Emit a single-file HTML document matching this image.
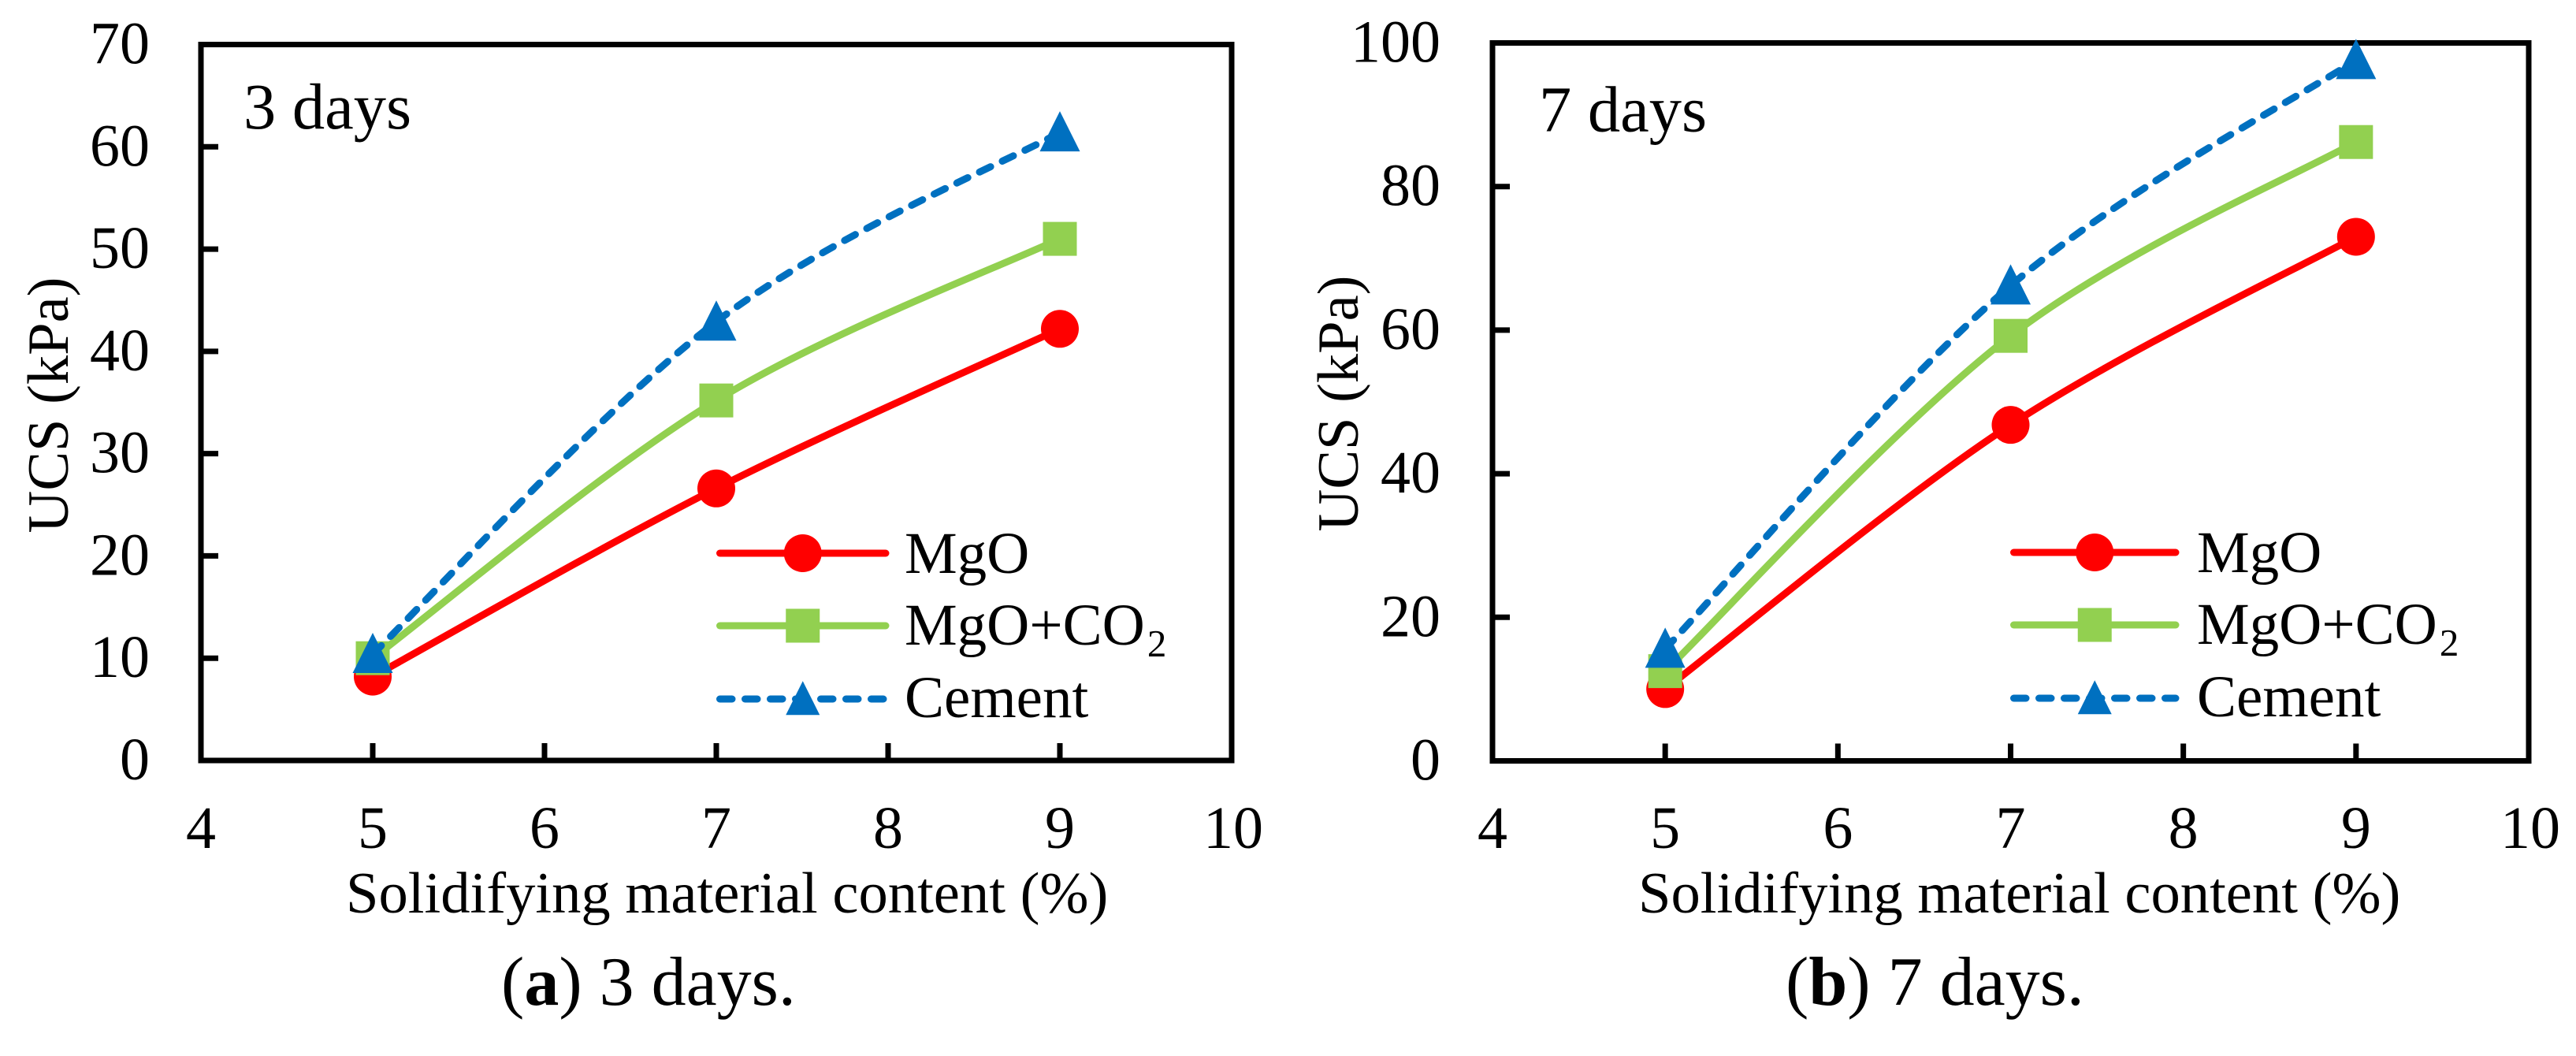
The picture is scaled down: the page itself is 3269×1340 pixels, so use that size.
<!DOCTYPE html>
<html lang="en">
<head>
<meta charset="utf-8">
<title>UCS vs solidifying material content</title>
<style>
html,body{margin:0;padding:0;background:#fff;}
svg{display:block;}
text{font-family:"Liberation Serif","Times New Roman",serif;fill:#000;}
</style>
</head>
<body>
<svg id="figure" xmlns="http://www.w3.org/2000/svg" width="3269" height="1340" viewBox="0 0 3269 1340"></svg>
<script>
const xCategories = [5, 7, 9];
const xTickLabels = [4, 5, 6, 7, 8, 9, 10];
const seriesNames = ['MgO', 'MgO+CO2', 'Cement'];

const yTicks3Days = [0, 10, 20, 30, 40, 50, 60, 70];
const mgo3Days = [8.2, 26.6, 42.2];
const mgoCo23Days = [10, 35.2, 51];
const cement3Days = [10.4, 42.9, 61.4];

const yTicks7Days = [0, 20, 40, 60, 80, 100];
const mgo7Days = [10, 46.8, 73];
const mgoCo27Days = [12.5, 59.2, 86.2];
const cement7Days = [15.6, 66.2, 97.6];

const NS = 'http://www.w3.org/2000/svg';
const svg = document.getElementById('figure');

function make(tag, attrs, parent, txt) {
  const el = document.createElementNS(NS, tag);
  for (const k in attrs) el.setAttribute(k, attrs[k]);
  if (txt !== undefined) el.textContent = txt;
  (parent || svg).appendChild(el);
  return el;
}

const styles = [
  {color: '#FF0000', dash: null},
  {color: '#92D050', dash: null},
  {color: '#0070C0', dash: '15.5 16.5'}
];

function smoothPath(pts) {
  let d = 'M' + pts[0][0] + ' ' + pts[0][1];
  for (let i = 0; i < pts.length - 1; i++) {
    const p0 = pts[Math.max(i - 1, 0)], p1 = pts[i], p2 = pts[i + 1], p3 = pts[Math.min(i + 2, pts.length - 1)];
    const c1x = p1[0] + (p2[0] - p0[0]) / 6, c1y = p1[1] + (p2[1] - p0[1]) / 6;
    const c2x = p2[0] - (p3[0] - p1[0]) / 6, c2y = p2[1] - (p3[1] - p1[1]) / 6;
    d += ' C' + c1x + ' ' + c1y + ' ' + c2x + ' ' + c2y + ' ' + p2[0] + ' ' + p2[1];
  }
  return d;
}

function drawMarker(kind, cx, cy, color, size, parent) {
  if (kind === 0) {
    const c = make('circle', {cx: cx, cy: cy, r: 24, fill: color}, parent);
    
    
  } else if (kind === 1) {
    const r = make('rect', {x: cx - 21.5, y: cy - 21.5, width: 43, height: 43, fill: color}, parent);
    
    
  } else {
    const h = size, w = size;
    const t = make('polygon', {points: (cx - w / 2) + ',' + (cy + h * 0.47) + ' ' + (cx + w / 2) + ',' + (cy + h * 0.47) + ' ' + cx + ',' + (cy - h * 0.53), fill: color}, parent);
    
    
  }
}

function drawChart(o) {
  const g = make('g', {});
  
  
  const xAxis = v => o.x0 + (v - 4) / 6 * (o.x1 - o.x0);
  const yMax = o.yTicks[o.yTicks.length - 1];
  const yAxis = v => o.y0 - v / yMax * (o.y0 - o.y1);

  // frame
  const frame = make('rect', {x: o.x0, y: o.y1, width: o.x1 - o.x0, height: o.y0 - o.y1, fill: 'none', stroke: '#000', 'stroke-width': 7}, g);
  
  

  // y ticks
  o.yTicks.forEach((t, i) => {
    const y = yAxis(t);
    if (i > 0 && i < o.yTicks.length - 1) {
      const tk = make('line', {x1: o.x0, x2: o.x0 + 22, y1: y, y2: y, stroke: '#000', 'stroke-width': 7}, g);
      
      
    }
    const lb = make('text', {x: o.yLabelX, y: y + 24, 'text-anchor': 'end', 'font-size': 76}, g, String(t));
    
    
  });

  // x ticks
  xTickLabels.forEach((t, i) => {
    const x = xAxis(t);
    if (i > 0 && i < xTickLabels.length - 1) {
      const tk = make('line', {x1: x, x2: x, y1: o.y0, y2: o.y0 - 22, stroke: '#000', 'stroke-width': 7}, g);
      
      
    }
    const lb = make('text', {x: x + (t === 10 ? 2 : 0), y: 1076, 'text-anchor': 'middle', 'font-size': 76}, g, String(t));
    
    
  });

  // series
  o.series.forEach((vals, s) => {
    const pts = vals.map((v, i) => [xAxis(xCategories[i]), yAxis(v)]);
    const attrs = {d: smoothPath(pts), fill: 'none', stroke: styles[s].color, 'stroke-width': 9, 'stroke-linecap': 'round'};
    if (styles[s].dash) attrs['stroke-dasharray'] = styles[s].dash;
    const p = make('path', attrs, g);
    
    
    pts.forEach(pt => drawMarker(s, pt[0], pt[1], styles[s].color, 51, g));
  });

  // legend
  const legend = make('g', {}, g);
  
  
  const ly = [o.legendY, o.legendY + 92, o.legendY + 185];
  const ty = [o.legendY + 25, o.legendY + 116, o.legendY + 208];
  seriesNames.forEach((n, s) => {
    const a = {x1: o.legendX0, x2: o.legendX1, y1: ly[s], y2: ly[s], stroke: styles[s].color, 'stroke-width': 9, 'stroke-linecap': 'round'};
    if (styles[s].dash) a['stroke-dasharray'] = styles[s].dash;
    const l = make('line', a, legend);
    
    
    drawMarker(s, (o.legendX0 + o.legendX1) / 2, ly[s], styles[s].color, 43, legend);
    const t = make('text', {x: o.legendTextX, y: ty[s], 'font-size': 75}, legend);
    
    
    if (n === 'MgO+CO2') {
      make('tspan', {}, t, 'MgO+CO');
      make('tspan', {dy: 15, dx: 3, 'font-size': 49}, t, '2');
    } else {
      t.textContent = n;
    }
  });

  // labels
  const tag = make('text', {x: o.tagX, y: o.tagY, 'font-size': 82.5}, g, o.tag);
  
  

  const xt = make('text', {x: o.xTitleX, y: 1158, 'font-size': 74.6}, g, 'Solidifying material content (%)');
  
  

  const yt = make('text', {transform: 'translate(' + o.yTitleX + ' ' + o.yTitleY + ') rotate(-90)', 'text-anchor': 'middle', 'font-size': 74.5}, g, 'UCS (kPa)');
  
  

  const cap = make('text', {x: o.capX, y: 1275, 'font-size': 88}, g);
  
  
  make('tspan', {}, cap, '(');
  make('tspan', {'font-weight': 'bold'}, cap, o.capLetter);
  make('tspan', {}, cap, ') ' + o.tag + '.');
}

drawChart({
  name: 'chart-3-days', x0: 255, x1: 1563, y0: 965, y1: 56.5, yLabelX: 190,
  yTicks: yTicks3Days, series: [mgo3Days, mgoCo23Days, cement3Days],
  legendX0: 913.5, legendX1: 1124, legendY: 702, legendTextX: 1148,
  tag: '3 days', tagX: 309, tagY: 163, xTitleX: 439, yTitleX: 86, yTitleY: 514,
  capX: 636, capLetter: 'a'
});
drawChart({
  name: 'chart-7-days', x0: 1894, x1: 3209, y0: 965.5, y1: 54.5, yLabelX: 1828,
  yTicks: yTicks7Days, series: [mgo7Days, mgoCo27Days, cement7Days],
  legendX0: 2555.5, legendX1: 2761, legendY: 701, legendTextX: 2788,
  tag: '7 days', tagX: 1953, tagY: 166.5, xTitleX: 2079, yTitleX: 1723, yTitleY: 512,
  capX: 2266, capLetter: 'b'
});
</script>
</body>
</html>
